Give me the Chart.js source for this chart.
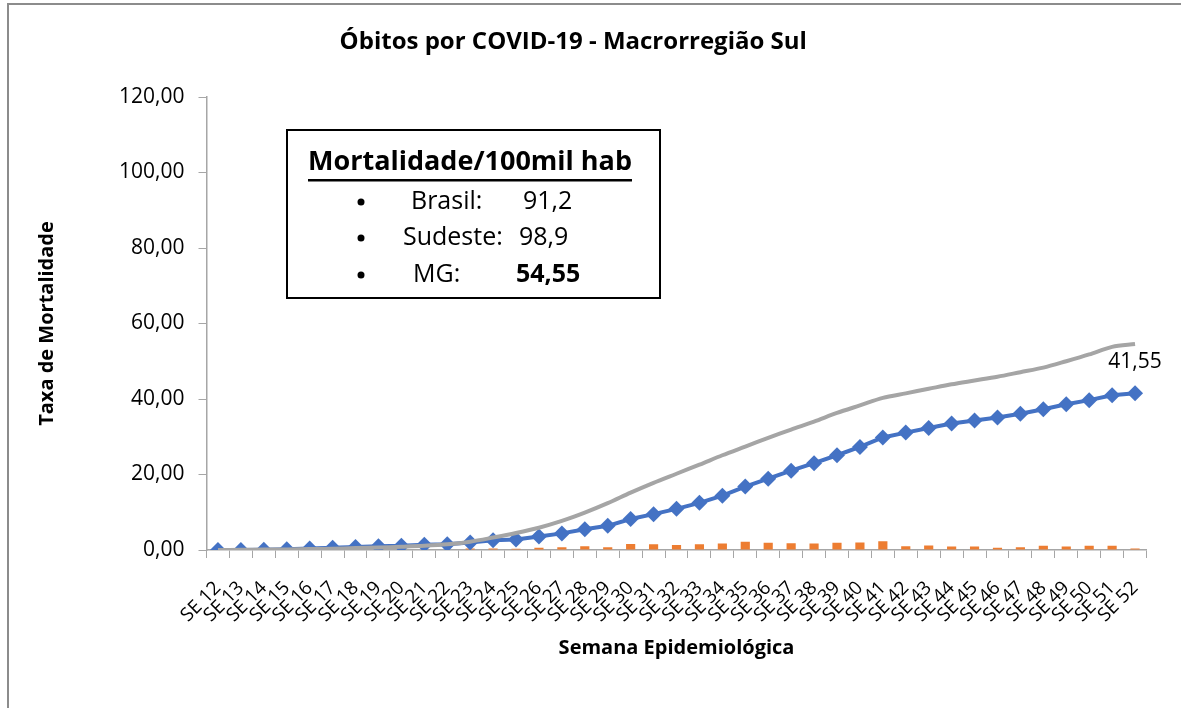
<!DOCTYPE html>
<html>
<head>
<meta charset="utf-8">
<script src="https://cdn.jsdelivr.net/npm/chart.js@4"></script>
<style>
  html, body { margin: 0; padding: 0; background: #fff; overflow: hidden; }
  #wrap { position: relative; width: 1181px; height: 708px; }
  #frame {
    position: absolute; left: 7px; top: 3px; width: 1300px; height: 800px;
    border-top: 2px solid #8c8c8c; border-left: 2px solid #8c8c8c;
  }
  #chartCanvas { position: absolute; left: 0; top: 0; }
</style>
</head>
<body>
<div id="wrap">
  <div id="frame"></div>
  <canvas id="chartCanvas" width="1181" height="708"></canvas>
</div>
<script>
"use strict";

const weeks = [
  "SE 12", "SE 13", "SE 14", "SE 15", "SE 16", "SE 17", "SE 18", "SE 19", "SE 20",
  "SE 21", "SE 22", "SE 23", "SE 24", "SE 25", "SE 26", "SE 27", "SE 28", "SE 29",
  "SE 30", "SE 31", "SE 32", "SE 33", "SE 34", "SE 35", "SE 36", "SE 37", "SE 38",
  "SE 39", "SE 40", "SE 41", "SE 42", "SE 43", "SE 44", "SE 45", "SE 46", "SE 47",
  "SE 48", "SE 49", "SE 50", "SE 51", "SE 52"
];

// taxa semanal (barras)
const weeklyRate = [
  0, 0, 0, 0.05, 0.1, 0.1, 0.1, 0.1, 0.1, 0.15, 0.15, 0.4, 0.4, 0.3, 0.6, 0.7, 1.0, 0.7,
  1.6, 1.5, 1.3, 1.5, 1.7, 2.2, 1.9, 1.8, 1.7, 1.9, 2.0, 2.3, 1.0, 1.2, 0.9, 0.9, 0.6, 0.7,
  1.1, 0.9, 1.1, 1.1, 0.4
];

// taxa acumulada Macro Sul
const sulRate = [
  0, 0, 0.05, 0.2, 0.4, 0.6, 0.8, 1.0, 1.1, 1.4, 1.5, 2.0, 2.6, 2.8, 3.6, 4.4, 5.5, 6.4,
  8.2, 9.5, 10.9, 12.5, 14.4, 16.8, 18.9, 21.0, 23.0, 25.1, 27.3, 29.8, 31.1, 32.3, 33.5,
  34.3, 35.1, 36.1, 37.3, 38.6, 39.7, 41.0, 41.55
];

// taxa acumulada MG
const mgRate = [
  0, 0.05, 0.1, 0.15, 0.25, 0.35, 0.5, 0.65, 0.85, 1.1, 1.5, 2.2, 3.3, 4.5, 5.9, 7.7, 9.9,
  12.4, 15.2, 17.8, 20.2, 22.6, 25.1, 27.4, 29.7, 31.9, 34.0, 36.3, 38.3, 40.3, 41.5, 42.7,
  43.9, 44.9, 45.9, 47.1, 48.3, 50.0, 51.8, 53.8, 54.55
];

const yTicks = [0, 20, 40, 60, 80, 100, 120];

const boxTitle = "Mortalidade/100mil hab";
const boxItems = [
  { name: "Brasil:", value: "91,2", bold: false },
  { name: "Sudeste:", value: "98,9", bold: false },
  { name: "MG:", value: "54,55", bold: true }
];

const FONT = "'Open Sans', sans-serif";

function fmt(v) {
  return v.toFixed(2).replace(".", ",");
}

// caixa de texto com as taxas de referência
const infoBox = {
  id: "infoBox",
  afterDraw(chart) {
    const ctx = chart.ctx;
    ctx.save();
    ctx.strokeStyle = "#000";
    ctx.lineWidth = 2;
    ctx.strokeRect(287, 130, 373, 168);

    ctx.fillStyle = "#000";
    ctx.textBaseline = "middle";
    ctx.textAlign = "left";
    ctx.font = "bold 27px " + FONT;
    ctx.fillText(boxTitle, 308, 162);
    const w = ctx.measureText(boxTitle).width;
    ctx.fillRect(308, 179, w, 2.5);

    const rowsY = [202, 238, 275];
    const nameX = [411, 403, 413];
    const valX = [523, 519, 516];
    boxItems.forEach((item, i) => {
      ctx.font = "25px " + FONT;
      ctx.beginPath();
      ctx.arc(361, rowsY[i], 3.5, 0, Math.PI * 2);
      ctx.fill();
      ctx.fillText(item.name, nameX[i], rowsY[i]);
      ctx.font = (item.bold ? "bold " : "") + "25px " + FONT;
      ctx.fillText(item.value, valX[i], rowsY[i]);
    });
    ctx.restore();
  }
};

// rótulo do último ponto da série Macro Sul
const lastLabel = {
  id: "lastLabel",
  afterDatasetsDraw(chart) {
    const meta = chart.getDatasetMeta(1);
    const pt = meta.data[meta.data.length - 1];
    const ctx = chart.ctx;
    ctx.save();
    ctx.fillStyle = "#000";
    ctx.font = "21px " + FONT;
    ctx.textAlign = "center";
    ctx.textBaseline = "middle";
    ctx.fillText(fmt(sulRate[sulRate.length - 1]), pt.x, pt.y - 31);
    ctx.restore();
  }
};

document.addEventListener("DOMContentLoaded", () => {
  const ctx = document.querySelector("#chartCanvas").getContext("2d");

  new Chart(ctx, {
    type: "bar",
    data: {
      labels: weeks,
      datasets: [
        {
          type: "bar",
          label: "Taxa semanal",
          data: weeklyRate,
          backgroundColor: "#ED7D31",
          barPercentage: 0.4,
          categoryPercentage: 1,
          order: 3
        },
        {
          type: "line",
          label: "Macro Sul",
          data: sulRate,
          borderColor: "#4472C4",
          backgroundColor: "#4472C4",
          borderWidth: 4,
          pointStyle: "rectRot",
          pointRadius: 8,
          pointBorderWidth: 0,
          tension: 0,
          order: 2
        },
        {
          type: "line",
          label: "MG",
          data: mgRate,
          borderColor: "#A5A5A5",
          borderWidth: 4,
          pointRadius: 0,
          tension: 0.3,
          order: 1
        }
      ]
    },
    options: {
      responsive: false,
      animation: false,
      layout: { padding: { left: 0, right: 34.5, top: 0, bottom: 0 } },
      plugins: {
        legend: { display: false },
        tooltip: { enabled: false },
        title: {
          display: true,
          text: "Óbitos por COVID-19 - Macrorregião Sul",
          color: "#000",
          font: { family: FONT, size: 24, weight: "bold" },
          padding: { top: 28, bottom: 40.2 }
        }
      },
      scales: {
        x: {
          grid: {
            drawOnChartArea: false,
            drawTicks: true,
            tickLength: 8,
            color: "#A6A6A6",
            offset: true
          },
          border: { display: true, color: "#A6A6A6", width: 1.5 },
          ticks: {
            autoSkip: false,
            maxRotation: 45,
            minRotation: 45,
            padding: 19,
            color: "#000",
            font: { family: FONT, size: 19 }
          },
          title: {
            display: true,
            text: "Semana Epidemiológica",
            color: "#000",
            font: { family: FONT, size: 20, weight: "bold" },
            padding: { top: 0, bottom: 48 }
          },
          afterFit(scale) {
            scale.height = 158;
          }
        },
        y: {
          min: 0,
          max: 120,
          afterBuildTicks(scale) {
            scale.ticks = yTicks.map(v => ({ value: v }));
          },
          grid: {
            drawOnChartArea: false,
            drawTicks: true,
            tickLength: 8,
            color: "#A6A6A6"
          },
          border: { display: true, color: "#A6A6A6", width: 1.5 },
          ticks: {
            padding: 14,
            color: "#000",
            font: { family: FONT, size: 21 },
            callback: v => fmt(v)
          },
          title: {
            display: true,
            text: "Taxa de Mortalidade",
            color: "#000",
            font: { family: FONT, size: 20, weight: "bold" },
            padding: { top: 35, bottom: 0 }
          },
          afterFit(scale) {
            scale.width = 206.5;
          }
        }
      }
    },
    plugins: [infoBox, lastLabel]
  });
});
</script>
</body>
</html>
